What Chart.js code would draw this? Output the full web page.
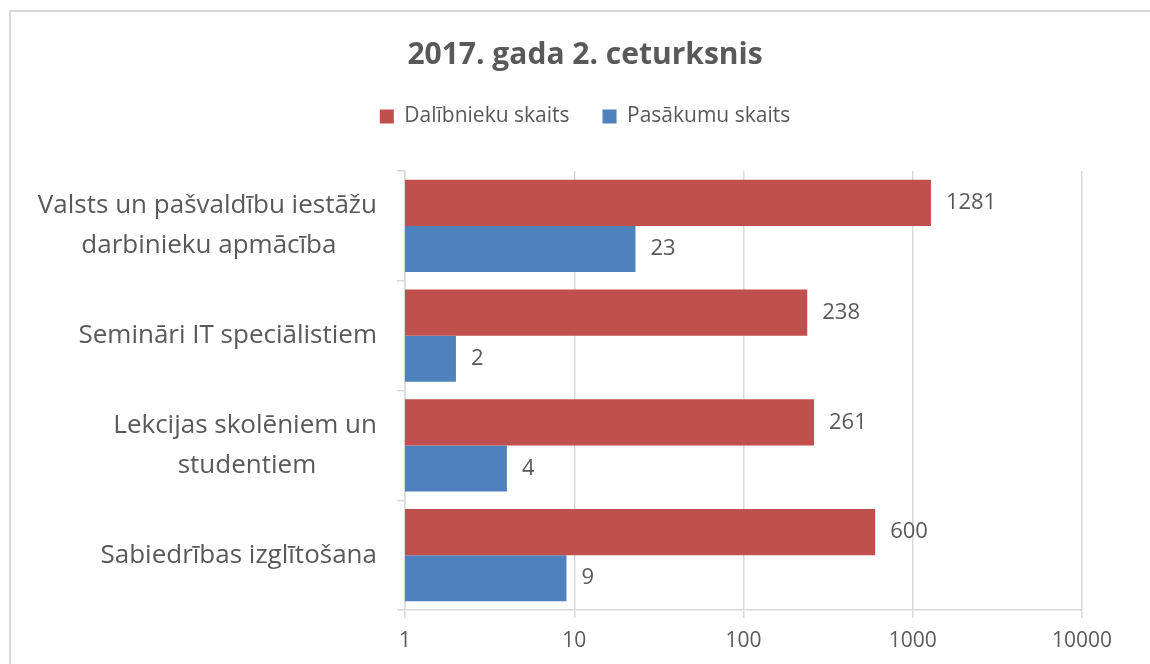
<!DOCTYPE html>
<html>
<head>
<meta charset="utf-8">
<script src="https://cdn.jsdelivr.net/npm/chart.js@4"></script>
<style>
  body { margin: 0; background: #fff; overflow: hidden; }
  #frame { position: absolute; left: 9px; top: 10px; width: 1200px; height: 700px; border: 2px solid #d9d9d9; }
  #wrap { position: absolute; left: 0; top: 0; width: 1150px; height: 664px; }
</style>
</head>
<body>
<div id="frame"></div>
<div id="wrap"><canvas id="chart"></canvas></div>
<script>
// chart values
const categories = [
    ['Valsts un pašvaldību iestāžu', 'darbinieku apmācība'],
    'Semināri IT speciālistiem',
    ['Lekcijas skolēniem un', 'studentiem'],
    'Sabiedrības izglītošana'
];
const participants = [1281, 238, 261, 600];
const events = [23, 2, 4, 9];
const tickValues = [1, 10, 100, 1000, 10000];

const grey = '#595959';
const gridColor = '#d9d9d9';
const catFont = '26px "Open Sans"';

// Excel centres the lines of a wrapped label inside its block,
// so pad the shorter lines with trailing spaces (labels stay right aligned)
const measureCtx = document.createElement('canvas').getContext('2d');
function centreLines(label) {
    if (!Array.isArray(label)) return label;
    measureCtx.font = catFont;
    const widths = label.map(s => measureCtx.measureText(s).width);
    const widest = Math.max(...widths);
    const space = measureCtx.measureText(' ').width;
    return label.map((s, i) => s + ' '.repeat(Math.round((widest - widths[i]) / 2 / space)));
}

// write the value just past the end of each bar
const valueLabels = {
    id: 'valueLabels',
    afterDatasetsDraw(chart) {
        const ctx = chart.ctx;
        ctx.save();
        ctx.font = '22px "Open Sans"';
        ctx.fillStyle = grey;
        ctx.textAlign = 'left';
        ctx.textBaseline = 'middle';
        chart.data.datasets.forEach((ds, i) => {
            chart.getDatasetMeta(i).data.forEach((bar, j) => {
                ctx.fillText(String(ds.data[j]), bar.x + 15, bar.y);
            });
        });
        ctx.restore();
    }
};

// the title and legend are centred on the whole frame in the original,
// not on the space left of the right padding
const centreHeader = {
    id: 'centreHeader',
    afterLayout(chart) {
        chart.titleBlock.left += 88;
        chart.legend.left += 88;
    }
};

new Chart(document.getElementById('chart'), {
    type: 'bar',
    data: {
        labels: categories,
        datasets: [
            { label: 'Dalībnieku skaits', data: participants, backgroundColor: '#C0504D' },
            { label: 'Pasākumu skaits', data: events, backgroundColor: '#4F81BD' }
        ]
    },
    options: {
        indexAxis: 'y',
        responsive: true,
        maintainAspectRatio: false,
        animation: false,
        categoryPercentage: 0.84,
        barPercentage: 1,
        layout: { padding: { left: 0, right: 68, top: 0, bottom: 0 } },
        scales: {
            x: {
                type: 'logarithmic',
                min: 1,
                max: 10000,
                afterBuildTicks(axis) {
                    axis.ticks = tickValues.map(v => ({ value: v }));
                },
                grid: { color: gridColor, lineWidth: 1.5, tickLength: 8 },
                border: { color: gridColor, width: 1.5 },
                ticks: {
                    color: grey,
                    font: { family: 'Open Sans', size: 21 },
                    padding: 10.4,
                    maxRotation: 0,
                    callback: v => String(v)
                }
            },
            y: {
                // fixed width; labels sit in the middle of their bands,
                // so they need no extra room above or below the plot
                afterFit(scale) {
                    scale.width = 405;
                    scale.paddingTop = 0;
                    scale.paddingBottom = 0;
                },
                grid: { color: gridColor, lineWidth: 1.5, drawOnChartArea: false, tickLength: 8, offset: true },
                border: { color: gridColor, width: 1.5 },
                ticks: {
                    color: grey,
                    font: { family: 'Open Sans', size: 26, lineHeight: 1.55 },
                    padding: 20,
                    callback: (v, i) => centreLines(categories[i])
                }
            }
        },
        plugins: {
            title: {
                display: true,
                text: '2017. gada 2. ceturksnis',
                color: grey,
                font: { family: 'Open Sans', size: 30, weight: 'bold' },
                padding: { top: 37, bottom: 0 }
            },
            // empty spacer placed under the legend (lower weight than the legend)
            subtitle: {
                display: true,
                text: '',
                weight: 500,
                font: { size: 10, lineHeight: 1 },
                padding: { top: 24, bottom: 0 }
            },
            legend: {
                labels: {
                    color: grey,
                    font: { family: 'Open Sans', size: 21 },
                    boxWidth: 14,
                    boxHeight: 14,
                    padding: 33
                }
            },
            tooltip: { enabled: false }
        }
    },
    plugins: [valueLabels, centreHeader]
});
</script>
</body>
</html>
